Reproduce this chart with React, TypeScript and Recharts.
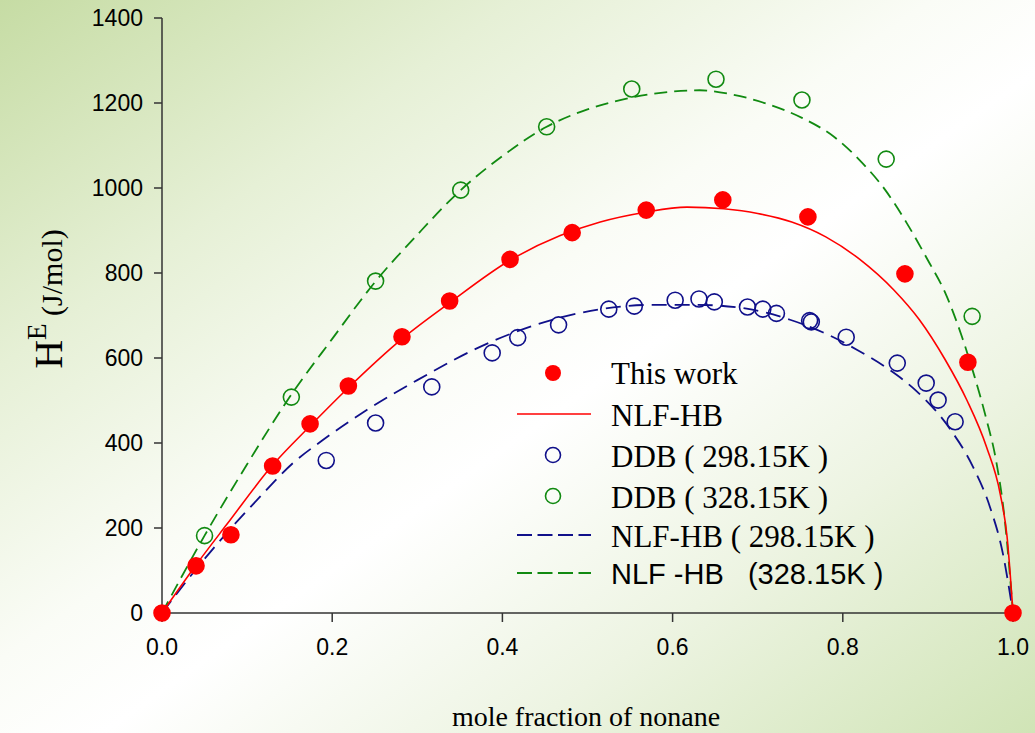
import React from "react";
import {
  ComposedChart,
  Line,
  Scatter,
  XAxis,
  YAxis,
} from "recharts";

// measured points, "This work"
const thisWorkX = [0, 0.04, 0.081, 0.13, 0.174, 0.219, 0.282, 0.338, 0.409, 0.482, 0.569, 0.659, 0.759, 0.873, 0.947, 1.0];
const thisWorkY = [0, 111, 184, 346, 445, 534, 650, 734, 832, 895, 948, 972, 932, 798, 590, 0];

// DDB 298.15K
const ddb298X = [0.193, 0.251, 0.317, 0.388, 0.418, 0.466, 0.525, 0.555, 0.603, 0.631, 0.649, 0.688, 0.706, 0.722, 0.761, 0.763, 0.804, 0.864, 0.898, 0.912, 0.932];
const ddb298Y = [359, 447, 532, 612, 648, 678, 715, 722, 736, 739, 732, 720, 715, 705, 688, 685, 649, 588, 541, 501, 450];

// DDB 328.15K
const ddb328X = [0.05, 0.152, 0.251, 0.351, 0.452, 0.552, 0.651, 0.752, 0.851, 0.952];
const ddb328Y = [182, 508, 781, 995, 1144, 1233, 1256, 1207, 1068, 698];

// NLF-HB fit
const nlfX = [0, 0.04, 0.076, 0.13, 0.174, 0.219, 0.282, 0.338, 0.409, 0.468, 0.515, 0.568, 0.617, 0.66, 0.7, 0.74, 0.78, 0.82, 0.86, 0.89, 0.92, 0.946, 0.969, 0.985, 0.993, 1];
const nlfY = [0, 113, 208, 348, 440, 530, 645, 730, 830, 888, 920, 943, 955, 951, 940, 920, 885, 832, 760, 690, 597, 500, 390, 280, 180, 0];

// NLF-HB 298.15K
const nlf298X = [0, 0.042, 0.076, 0.115, 0.154, 0.189, 0.241, 0.3, 0.389, 0.491, 0.577, 0.629, 0.687, 0.738, 0.777, 0.817, 0.855, 0.885, 0.926, 0.953, 0.973, 0.988, 1];
const nlf298Y = [0, 108, 188, 273, 353, 407, 478, 548, 640, 706, 725, 725, 716, 690, 660, 619, 572, 525, 433, 344, 249, 141, 0];

// NLF-HB 328.15K
const nlf328X = [0, 0.05, 0.1, 0.15, 0.2, 0.25, 0.3, 0.351, 0.4, 0.452, 0.5, 0.55, 0.6, 0.632, 0.67, 0.711, 0.752, 0.79, 0.82, 0.85, 0.875, 0.9, 0.92, 0.94, 0.955, 0.969, 0.98, 0.99, 1];
const nlf328Y = [0, 182, 350, 508, 645, 778, 890, 995, 1075, 1144, 1185, 1212, 1227, 1230, 1220, 1198, 1165, 1120, 1065, 995, 918, 830, 755, 650, 555, 454, 360, 225, 0];

const xTicks = [0, 0.2, 0.4, 0.6, 0.8, 1.0];
const yTicks = [0, 200, 400, 600, 800, 1000, 1200, 1400];

const pairs = (xs: number[], ys: number[]) => xs.map((x, i) => ({ x, y: ys[i] }));

const RED = "#ff0000";
const BLUE = "#10108a";
const GREEN = "#118a11";

const serif = "'Liberation Serif', 'Times New Roman', serif";
const sans = "'Liberation Sans', Arial, sans-serif";

const dot = (fill: string, stroke: string) => (p: any) =>
  <circle cx={p.cx} cy={p.cy} r={8} fill={fill} stroke={stroke} strokeWidth={1.6} />;

export default function App() {
  const tick = { fontSize: 23, fill: "#000", fontFamily: sans };
  return (
    <div
      style={{
        position: "absolute",
        left: 0,
        top: 0,
        width: 1035,
        height: 733,
        background:
          "linear-gradient(to bottom right, #c6dca4 0%, #e6f0d6 25%, #fafcf6 45%, #ffffff 55%, #edf4e2 75%, #d0e4b6 100%)",
      }}
    >
      <ComposedChart width={1035} height={733} margin={{ top: 18, right: 22, left: 62, bottom: 60 }}>
        <XAxis
          dataKey="x"
          type="number"
          domain={[0, 1]}
          ticks={xTicks}
          tickFormatter={(v: number) => v.toFixed(1)}
          tick={tick}
          tickSize={9}
          tickMargin={17}
          height={60}
          stroke="#333"
          strokeWidth={1.5}
        />
        <XAxis xAxisId="top" orientation="top" dataKey="x" type="number" domain={[0, 1]} tick={false} tickLine={false} height={0} stroke="#333" strokeWidth={1.5} />
        <YAxis
          type="number"
          domain={[0, 1400]}
          ticks={yTicks}
          tick={tick}
          tickSize={8}
          tickMargin={11}
          width={100}
          stroke="#333"
          strokeWidth={1.5}
        />
        <YAxis yAxisId="right" orientation="right" type="number" domain={[0, 1400]} tick={false} tickLine={false} width={0} stroke="#333" strokeWidth={1.5} />

        <Line data={pairs(nlf328X, nlf328Y)} dataKey="y" type="monotone" stroke={GREEN} strokeWidth={1.8} strokeDasharray="13 7" dot={false} isAnimationActive={false} />
        <Line data={pairs(nlf298X, nlf298Y)} dataKey="y" type="monotone" stroke={BLUE} strokeWidth={1.8} strokeDasharray="15 8" dot={false} isAnimationActive={false} />
        <Line data={pairs(nlfX, nlfY)} dataKey="y" type="monotone" stroke={RED} strokeWidth={1.6} dot={false} isAnimationActive={false} />

        <Scatter data={pairs(ddb298X, ddb298Y)} dataKey="y" shape={dot("none", BLUE)} isAnimationActive={false} />
        <Scatter data={pairs(ddb328X, ddb328Y)} dataKey="y" shape={dot("none", GREEN)} isAnimationActive={false} />
        <Scatter data={pairs(thisWorkX, thisWorkY)} dataKey="y" shape={dot(RED, RED)} isAnimationActive={false} />
      </ComposedChart>

      <svg width={1035} height={733} style={{ position: "absolute", left: 0, top: 0, pointerEvents: "none" }}>
        {/* y axis title */}
        <text transform="translate(62,299) rotate(-90)" textAnchor="middle" fontFamily={serif} fill="#000">
          <tspan fontSize={40}>H</tspan>
          <tspan fontSize={27} dy={-16}>E</tspan>
          <tspan fontSize={30} dy={16}>{"\u00a0(J/mol)"}</tspan>
        </text>
        {/* x axis title */}
        <text x={586} y={726} textAnchor="middle" fontFamily={serif} fontSize={28} fill="#000">
          mole fraction of nonane
        </text>

        {/* legend */}
        <circle cx={553} cy={373} r={8} fill={RED} />
        <text x={611} y={384} fontFamily={serif} fontSize={31} fill="#000">This work</text>

        <line x1={517} x2={591} y1={414} y2={414} stroke={RED} strokeWidth={1.6} />
        <text x={611} y={426} fontFamily={serif} fontSize={31} fill="#000">NLF-HB</text>

        <circle cx={553} cy={455} r={7.5} fill="none" stroke={BLUE} strokeWidth={1.6} />
        <text x={611} y={467} fontFamily={serif} fontSize={31} fill="#000">DDB ( 298.15K )</text>

        <circle cx={553} cy={496} r={7.5} fill="none" stroke={GREEN} strokeWidth={1.6} />
        <text x={611} y={508} fontFamily={serif} fontSize={31} fill="#000">DDB ( 328.15K )</text>

        <line x1={517} x2={591} y1={535} y2={535} stroke={BLUE} strokeWidth={1.8} strokeDasharray="15 5.5" />
        <text x={611} y={547} fontFamily={serif} fontSize={31} fill="#000">NLF-HB ( 298.15K )</text>

        <line x1={517} x2={591} y1={573} y2={573} stroke={GREEN} strokeWidth={1.8} strokeDasharray="15 5.5" />
        <text x={611} y={584} fontFamily={sans} fontSize={29} fill="#000">{"NLF -HB \u00a0 (328.15K )"}</text>
      </svg>
    </div>
  );
}
